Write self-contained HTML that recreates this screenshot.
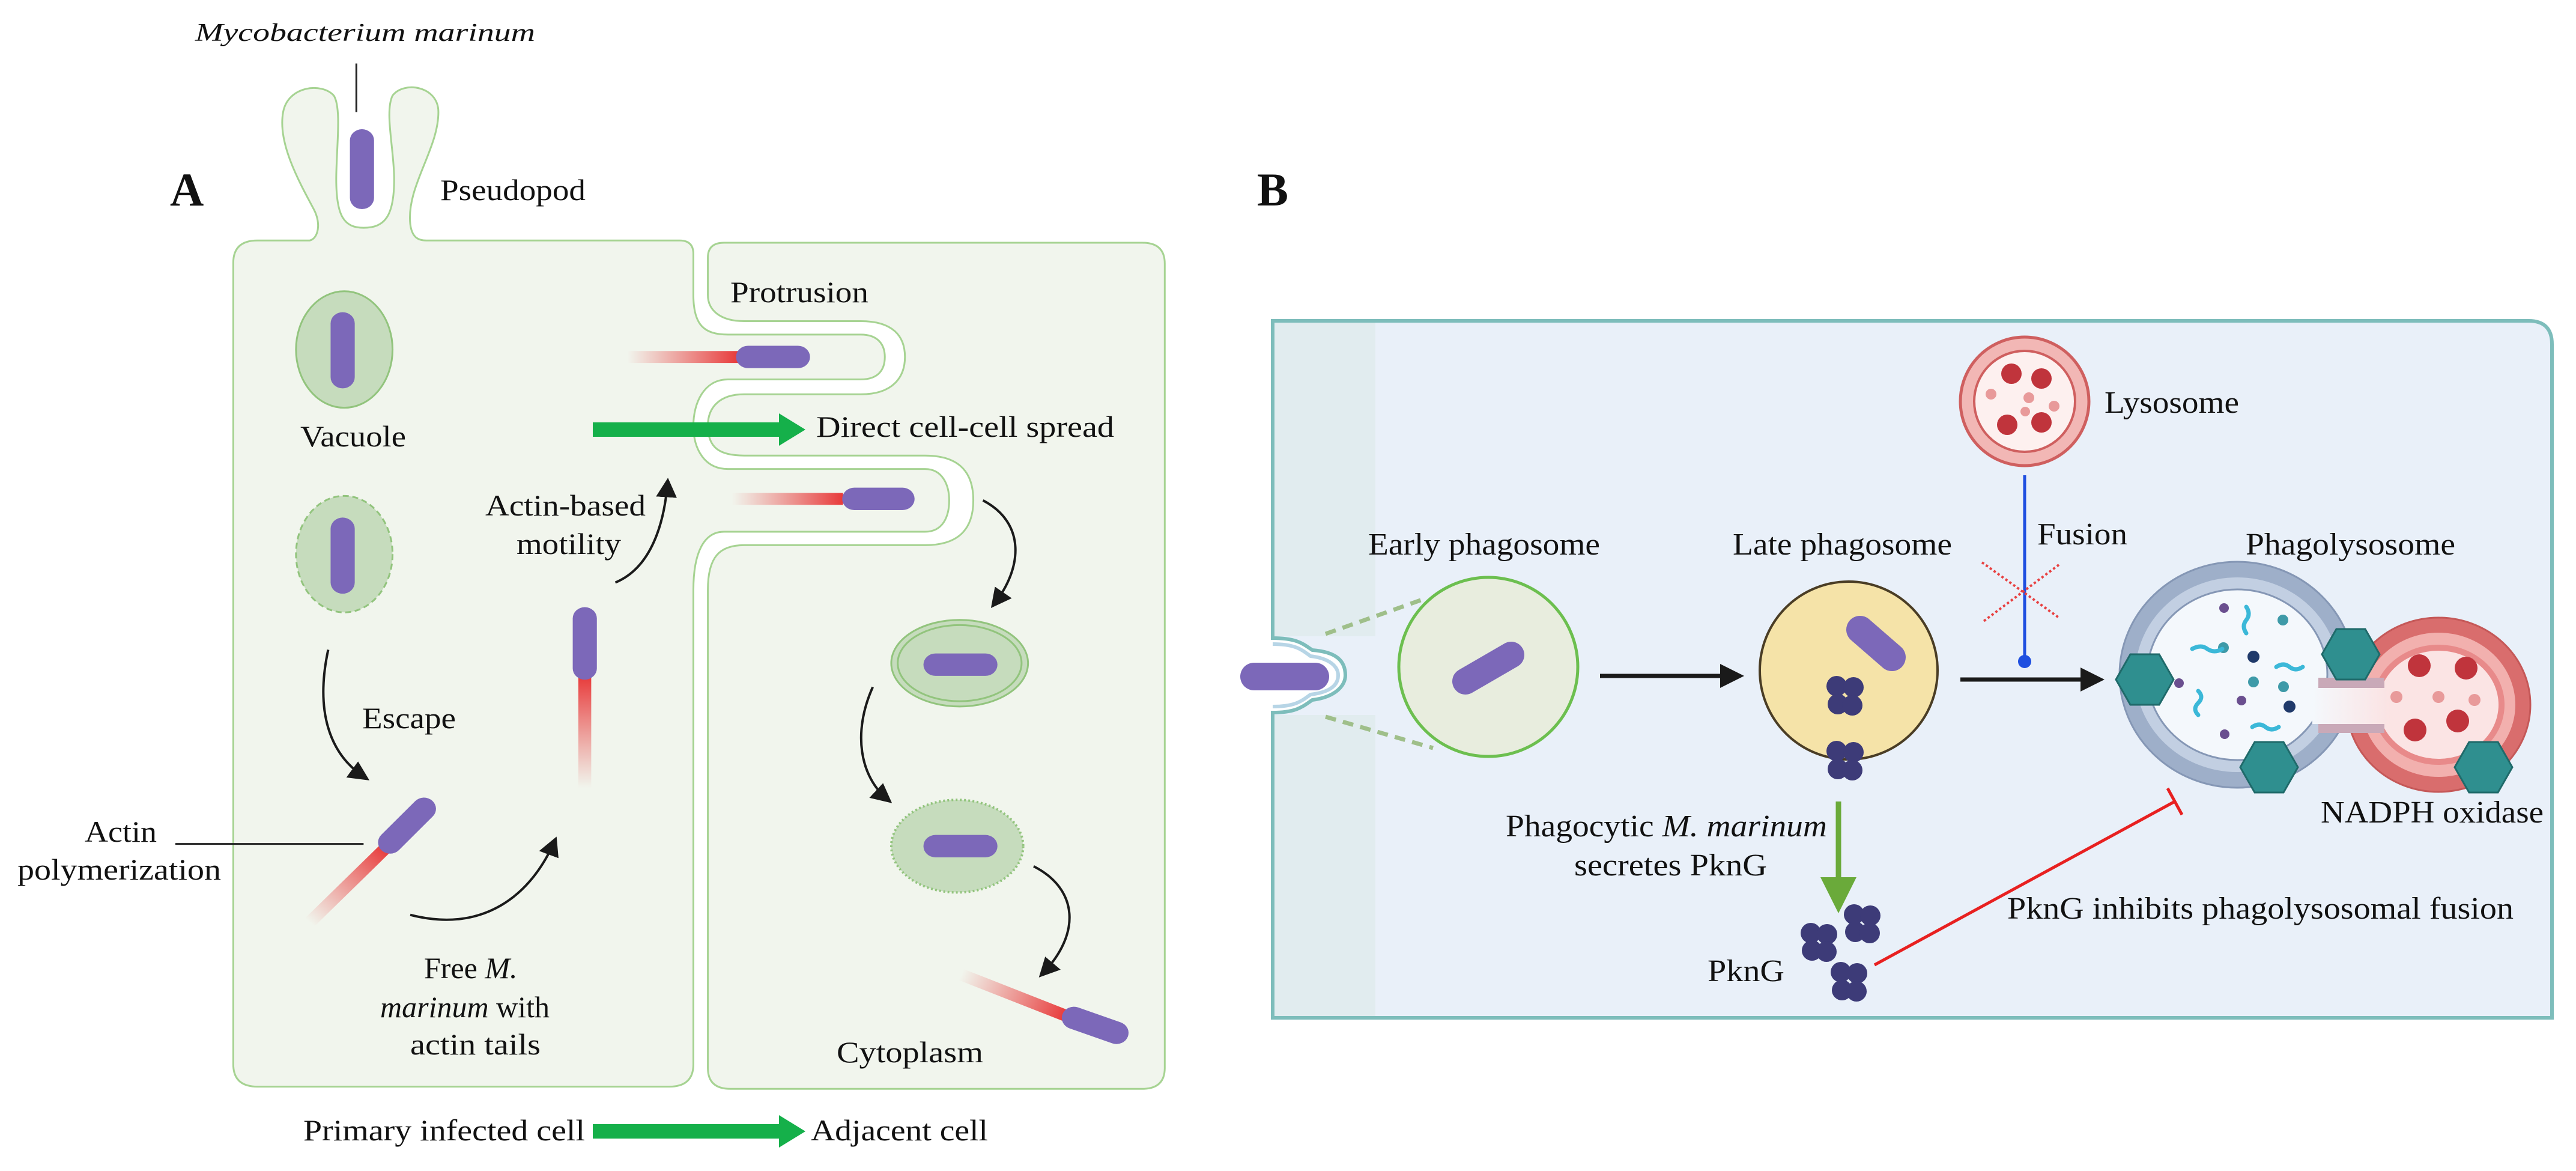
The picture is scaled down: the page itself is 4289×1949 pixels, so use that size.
<!DOCTYPE html>
<html><head><meta charset="utf-8"><style>
html,body{margin:0;padding:0;background:#fff;}
svg{display:block;}
text{font-family:"Liberation Serif",serif;fill:#111;}
</style></head><body>
<svg width="4289" height="1949" viewBox="0 0 4289 1949" xmlns="http://www.w3.org/2000/svg">
<defs>
<marker id="ah" viewBox="0 0 10 10" refX="8" refY="5" markerWidth="26" markerHeight="26" markerUnits="userSpaceOnUse" orient="auto"><path d="M0,0 L10,5 L0,10 Z" fill="#1a1a1a"/></marker>
<marker id="ahB" viewBox="0 0 10 10" refX="8" refY="5" markerWidth="40" markerHeight="40" markerUnits="userSpaceOnUse" orient="auto"><path d="M0,0 L10,5 L0,10 Z" fill="#1a1a1a"/></marker>
<linearGradient id="t1" gradientUnits="userSpaceOnUse" x1="385" y1="1235" x2="480" y2="1135"><stop offset="0" stop-color="#e84a4a" stop-opacity="0"/><stop offset="1" stop-color="#e83a3a"/></linearGradient>
<linearGradient id="t2" gradientUnits="userSpaceOnUse" x1="727" y1="1055" x2="727" y2="905"><stop offset="0" stop-color="#e84a4a" stop-opacity="0"/><stop offset="1" stop-color="#e83a3a"/></linearGradient>
<linearGradient id="t3" gradientUnits="userSpaceOnUse" x1="780" y1="478" x2="918" y2="478"><stop offset="0" stop-color="#e84a4a" stop-opacity="0"/><stop offset="1" stop-color="#e83a3a"/></linearGradient>
<linearGradient id="t4" gradientUnits="userSpaceOnUse" x1="910" y1="668" x2="1048" y2="668"><stop offset="0" stop-color="#e84a4a" stop-opacity="0"/><stop offset="1" stop-color="#e83a3a"/></linearGradient>
<linearGradient id="t5" gradientUnits="userSpaceOnUse" x1="1195" y1="1305" x2="1325" y2="1360"><stop offset="0" stop-color="#e84a4a" stop-opacity="0"/><stop offset="1" stop-color="#e83a3a"/></linearGradient>
<linearGradient id="neck" x1="0" y1="0" x2="1" y2="0"><stop offset="0" stop-color="#f4f8fc"/><stop offset="1" stop-color="#fbe3e3"/></linearGradient>
</defs>

<!-- ============ PANEL A ============ -->
<g transform="scale(1.3393,1.2430)">
  <!-- right cell -->
  <path d="M900,325 H1420 Q1448,325 1448,353 V1430 Q1448,1458 1420,1458 H908 Q880,1458 880,1430 V790 C880,745 895,730 925,730 H1150 C1195,730 1210,705 1210,670 C1210,635 1195,610 1150,610 H925 C895,610 880,600 880,570 C880,545 895,528 925,528 H1070 C1110,528 1125,505 1125,478 C1125,450 1110,430 1070,430 H925 C895,430 880,415 880,395 V345 Q880,325 900,325 Z" fill="#f1f5ed" stroke="#a6d392" stroke-width="3" vector-effect="non-scaling-stroke"/>
  <!-- left cell -->
  <path d="M320,322 H385 C395,320 400,300 390,280 C370,240 345,190 352,150 C358,115 400,110 415,128 C425,145 418,200 418,240 C418,290 428,305 452,305 C478,305 490,290 490,240 C490,200 478,150 488,128 C502,108 545,115 545,150 C545,200 505,250 510,300 C512,318 520,322 530,322 H845 Q862,322 862,340 V395 C862,435 875,448 905,448 H1070 C1092,448 1100,462 1100,478 C1100,495 1092,508 1070,508 H905 C875,508 862,540 862,570 C862,600 875,628 905,628 H1150 C1172,628 1180,650 1180,670 C1180,692 1172,712 1150,712 H900 C875,712 862,740 862,790 V1425 Q862,1455 832,1455 H320 Q290,1455 290,1425 V352 Q290,322 320,322 Z" fill="#f1f5ed" stroke="#a6d392" stroke-width="3" vector-effect="non-scaling-stroke"/>
  <!-- pseudopod line -->
  <line x1="443" y1="85" x2="443" y2="150" stroke="#222" stroke-width="3" vector-effect="non-scaling-stroke"/>
  <line x1="450" y1="188" x2="450" y2="265" stroke="#7c68b9" stroke-width="30" stroke-linecap="round"/>
  <!-- vacuoles -->
  <ellipse cx="428" cy="468" rx="60" ry="78" fill="#c6dcbd" stroke="#92c47d" stroke-width="3" vector-effect="non-scaling-stroke"/>
  <line x1="426" y1="433" x2="426" y2="505" stroke="#7c68b9" stroke-width="30" stroke-linecap="round"/>
  <ellipse cx="428" cy="742" rx="60" ry="78" fill="#c6dcbd" stroke="#92c47d" stroke-width="3" stroke-dasharray="10 6" vector-effect="non-scaling-stroke"/>
  <line x1="426" y1="708" x2="426" y2="780" stroke="#7c68b9" stroke-width="30" stroke-linecap="round"/>
  <!-- escape arrow -->
  <path d="M408,870 C392,950 408,1010 455,1042" fill="none" stroke="#1a1a1a" stroke-width="4" vector-effect="non-scaling-stroke" marker-end="url(#ah)"/>
  <!-- diagonal bacterium with tail -->
  <line x1="385" y1="1235" x2="480" y2="1135" stroke="url(#t1)" stroke-width="16"/>
  <line x1="485" y1="1128" x2="527" y2="1083" stroke="#7c68b9" stroke-width="30" stroke-linecap="round"/>
  <line x1="218" y1="1130" x2="452" y2="1130" stroke="#222" stroke-width="3" vector-effect="non-scaling-stroke"/>
  <path d="M510,1225 C600,1250 660,1200 690,1125" fill="none" stroke="#1a1a1a" stroke-width="4" vector-effect="non-scaling-stroke" marker-end="url(#ah)"/>
  <!-- vertical bacterium -->
  <line x1="727" y1="1055" x2="727" y2="905" stroke="url(#t2)" stroke-width="16"/>
  <line x1="727" y1="828" x2="727" y2="895" stroke="#7c68b9" stroke-width="30" stroke-linecap="round"/>
  <path d="M765,780 C810,760 826,700 830,645" fill="none" stroke="#1a1a1a" stroke-width="4" vector-effect="non-scaling-stroke" marker-end="url(#ah)"/>
  <!-- finger bacteria -->
  <line x1="780" y1="478" x2="918" y2="478" stroke="url(#t3)" stroke-width="16"/>
  <line x1="930" y1="478" x2="992" y2="478" stroke="#7c68b9" stroke-width="30" stroke-linecap="round"/>
  <line x1="910" y1="668" x2="1048" y2="668" stroke="url(#t4)" stroke-width="16"/>
  <line x1="1062" y1="668" x2="1122" y2="668" stroke="#7c68b9" stroke-width="30" stroke-linecap="round"/>
  <!-- right cell contents -->
  <path d="M1222,670 C1275,700 1272,760 1235,810" fill="none" stroke="#1a1a1a" stroke-width="4" vector-effect="non-scaling-stroke" marker-end="url(#ah)"/>
  <ellipse cx="1193" cy="888" rx="85" ry="58" fill="#c6dcbd" stroke="#92c47d" stroke-width="3" vector-effect="non-scaling-stroke"/>
  <ellipse cx="1193" cy="888" rx="77" ry="51" fill="none" stroke="#92c47d" stroke-width="3" vector-effect="non-scaling-stroke"/>
  <line x1="1163" y1="890" x2="1225" y2="890" stroke="#7c68b9" stroke-width="30" stroke-linecap="round"/>
  <path d="M1085,920 C1060,980 1068,1040 1105,1072" fill="none" stroke="#1a1a1a" stroke-width="4" vector-effect="non-scaling-stroke" marker-end="url(#ah)"/>
  <ellipse cx="1190" cy="1133" rx="82" ry="62" fill="#c6dcbd" stroke="#92c47d" stroke-width="4" stroke-dasharray="3 4" vector-effect="non-scaling-stroke"/>
  <line x1="1163" y1="1133" x2="1225" y2="1133" stroke="#7c68b9" stroke-width="30" stroke-linecap="round"/>
  <path d="M1285,1160 C1340,1190 1345,1250 1295,1305" fill="none" stroke="#1a1a1a" stroke-width="4" vector-effect="non-scaling-stroke" marker-end="url(#ah)"/>
  <line x1="1195" y1="1305" x2="1325" y2="1360" stroke="url(#t5)" stroke-width="16"/>
  <line x1="1335" y1="1363" x2="1388" y2="1383" stroke="#7c68b9" stroke-width="30" stroke-linecap="round"/>
</g>
<!-- green arrows panel A -->
<rect x="987" y="703" width="310" height="24" fill="#15b04a"/>
<polygon points="1297,688 1341,715 1297,742" fill="#15b04a"/>
<rect x="987" y="1871" width="310" height="24" fill="#15b04a"/>
<polygon points="1297,1856 1341,1883 1297,1910" fill="#15b04a"/>
<!-- text panel A -->
<text x="325" y="68" font-size="42" font-style="italic" textLength="566" lengthAdjust="spacingAndGlyphs">Mycobacterium marinum</text>
<text x="283" y="342" font-size="78" font-weight="bold">A</text>
<text x="733" y="333" font-size="50" textLength="242" lengthAdjust="spacingAndGlyphs">Pseudopod</text>
<text x="500" y="743" font-size="50" textLength="176" lengthAdjust="spacingAndGlyphs">Vacuole</text>
<text x="1216" y="503" font-size="50" textLength="230" lengthAdjust="spacingAndGlyphs">Protrusion</text>
<text x="1359" y="727" font-size="50" textLength="496" lengthAdjust="spacingAndGlyphs">Direct cell-cell spread</text>
<text x="808" y="858" font-size="50" textLength="267" lengthAdjust="spacingAndGlyphs">Actin-based</text>
<text x="860" y="922" font-size="50" textLength="174" lengthAdjust="spacingAndGlyphs">motility</text>
<text x="603" y="1212" font-size="50" textLength="156" lengthAdjust="spacingAndGlyphs">Escape</text>
<text x="141" y="1401" font-size="50" textLength="120" lengthAdjust="spacingAndGlyphs">Actin</text>
<text x="29" y="1464" font-size="50" textLength="339" lengthAdjust="spacingAndGlyphs">polymerization</text>
<text x="706" y="1628" font-size="50">Free <tspan font-style="italic">M.</tspan></text>
<text x="633" y="1693" font-size="50"><tspan font-style="italic">marinum</tspan> with</text>
<text x="683" y="1755" font-size="50" textLength="217" lengthAdjust="spacingAndGlyphs">actin tails</text>
<text x="1393" y="1768" font-size="50" textLength="244" lengthAdjust="spacingAndGlyphs">Cytoplasm</text>
<text x="505" y="1898" font-size="50" textLength="469" lengthAdjust="spacingAndGlyphs">Primary infected cell</text>
<text x="1350" y="1898" font-size="50" textLength="295" lengthAdjust="spacingAndGlyphs">Adjacent cell</text>

<!-- ============ PANEL B ============ -->
<text x="2093" y="342" font-size="78" font-weight="bold">B</text>
<path d="M2119,534 H4210 Q4249,534 4249,573 V1694 H2119 V1186 C2160,1186 2170,1175 2185,1165 C2225,1160 2240,1140 2240,1124 C2240,1100 2225,1085 2185,1082 C2170,1072 2160,1062 2119,1062 Z" fill="#e9f0f9" stroke="#7dbdbb" stroke-width="6"/>
<rect x="2122" y="537" width="168" height="522" fill="#e1ecef"/>
<rect x="2122" y="1190" width="168" height="501" fill="#e1ecef"/>
<path d="M2119,1072 C2158,1072 2168,1082 2182,1092 C2215,1096 2228,1110 2228,1124 C2228,1140 2215,1152 2182,1156 C2168,1166 2158,1176 2119,1176" fill="none" stroke="#b7d5e6" stroke-width="6"/>
<line x1="2088" y1="1126" x2="2190" y2="1126" stroke="#7c68b9" stroke-width="46" stroke-linecap="round"/>
<!-- dashed lines -->
<line x1="2207" y1="1055" x2="2371" y2="997" stroke="#9fbf8a" stroke-width="7" stroke-dasharray="18 12"/>
<line x1="2207" y1="1193" x2="2386" y2="1245" stroke="#9fbf8a" stroke-width="7" stroke-dasharray="18 12"/>
<!-- early phagosome -->
<circle cx="2478" cy="1110" r="149" fill="#e8edde" stroke="#6cbf4f" stroke-width="5"/>
<line x1="2440" y1="1134" x2="2516" y2="1090" stroke="#7c68b9" stroke-width="44" stroke-linecap="round"/>
<text x="2278" y="923" font-size="52" textLength="386" lengthAdjust="spacingAndGlyphs">Early phagosome</text>
<line x1="2664" y1="1125" x2="2896" y2="1125" stroke="#1a1a1a" stroke-width="7" marker-end="url(#ahB)"/>
<!-- late phagosome -->
<circle cx="3078" cy="1116" r="148" fill="#f5e3a8" stroke="#4a3d25" stroke-width="4"/>
<line x1="3097" y1="1048" x2="3150" y2="1094" stroke="#7c68b9" stroke-width="46" stroke-linecap="round"/>
<g fill="#3d3b78">
  <circle cx="3058" cy="1142" r="17"/><circle cx="3086" cy="1144" r="17"/><circle cx="3060" cy="1172" r="17"/><circle cx="3084" cy="1174" r="17"/>
  <circle cx="3058" cy="1250" r="17"/><circle cx="3086" cy="1252" r="17"/><circle cx="3060" cy="1280" r="17"/><circle cx="3084" cy="1282" r="17"/>
  <circle cx="3087" cy="1522" r="17"/><circle cx="3114" cy="1524" r="17"/><circle cx="3089" cy="1551" r="17"/><circle cx="3113" cy="1553" r="17"/>
  <circle cx="3015" cy="1553" r="17"/><circle cx="3042" cy="1555" r="17"/><circle cx="3017" cy="1582" r="17"/><circle cx="3041" cy="1584" r="17"/>
  <circle cx="3065" cy="1618" r="17"/><circle cx="3092" cy="1620" r="17"/><circle cx="3067" cy="1648" r="17"/><circle cx="3091" cy="1650" r="17"/>
</g>
<text x="2885" y="923" font-size="52" textLength="365" lengthAdjust="spacingAndGlyphs">Late phagosome</text>
<line x1="3264" y1="1131" x2="3496" y2="1131" stroke="#1a1a1a" stroke-width="7" marker-end="url(#ahB)"/>
<!-- lysosome -->
<circle cx="3371" cy="668" r="107" fill="#f2b7b5" stroke="#cf5f5f" stroke-width="5"/>
<circle cx="3371" cy="668" r="84" fill="#fdf0ef" stroke="#cf5f5f" stroke-width="4"/>
<g fill="#c0343c"><circle cx="3349" cy="622" r="17"/><circle cx="3399" cy="630" r="17"/><circle cx="3342" cy="707" r="17"/><circle cx="3399" cy="703" r="17"/></g>
<g fill="#e89a9a"><circle cx="3315" cy="656" r="9"/><circle cx="3378" cy="662" r="9"/><circle cx="3372" cy="685" r="8"/><circle cx="3420" cy="676" r="9"/></g>
<text x="3504" y="687" font-size="52" textLength="224" lengthAdjust="spacingAndGlyphs">Lysosome</text>
<line x1="3371" y1="791" x2="3371" y2="1099" stroke="#1f4fe0" stroke-width="5"/>
<circle cx="3371" cy="1101" r="11" fill="#1f4fe0"/>
<text x="3392" y="906" font-size="52" textLength="150" lengthAdjust="spacingAndGlyphs">Fusion</text>
<line x1="3300" y1="936" x2="3428" y2="1028" stroke="#e84040" stroke-width="4" stroke-dasharray="4 4"/>
<line x1="3428" y1="940" x2="3300" y2="1036" stroke="#e84040" stroke-width="4" stroke-dasharray="4 4"/>
<!-- phagolysosome -->
<ellipse cx="4060" cy="1173" rx="153" ry="145" fill="#d96d6d" stroke="#c55858" stroke-width="3"/>
<ellipse cx="4060" cy="1173" rx="128" ry="120" fill="#f2b0ae"/>
<ellipse cx="4060" cy="1173" rx="110" ry="100" fill="#e88a8a"/>
<ellipse cx="4060" cy="1173" rx="100" ry="90" fill="#fbe4e4"/>
<ellipse cx="3725" cy="1123" rx="196" ry="188" fill="#9eafc9" stroke="#8597b5" stroke-width="3"/>
<ellipse cx="3725" cy="1123" rx="170" ry="162" fill="#c2cfe2"/>
<ellipse cx="3725" cy="1123" rx="150" ry="142" fill="#f4f8fc" stroke="#8597b5" stroke-width="3"/>
<rect x="3860" y="1128" width="110" height="92" fill="#c9a9b8"/>
<rect x="3850" y="1145" width="130" height="60" fill="url(#neck)"/>
<g fill="#3e9aa8"><circle cx="3801" cy="1032" r="9"/><circle cx="3702" cy="1078" r="9"/><circle cx="3752" cy="1135" r="9"/><circle cx="3802" cy="1143" r="9"/></g>
<g fill="#6a4f8f"><circle cx="3703" cy="1012" r="8"/><circle cx="3628" cy="1137" r="8"/><circle cx="3732" cy="1166" r="8"/><circle cx="3704" cy="1222" r="8"/></g>
<g fill="#203a6a"><circle cx="3752" cy="1093" r="10"/><circle cx="3812" cy="1176" r="10"/></g>
<g fill="none" stroke="#3bb8d8" stroke-width="7" stroke-linecap="round">
  <path d="M3740,1010 q8,12 0,22 q-8,10 0,22"/><path d="M3650,1080 q15,-8 25,0 q12,8 25,0"/><path d="M3790,1110 q12,-8 22,0 q10,8 22,0"/><path d="M3660,1150 q10,10 0,20 q-10,10 0,20"/><path d="M3750,1210 q12,-8 22,0 q10,8 22,0"/>
</g>
<g fill="#c0343c"><circle cx="4028" cy="1108" r="19"/><circle cx="4106" cy="1112" r="19"/><circle cx="4021" cy="1215" r="19"/><circle cx="4092" cy="1200" r="19"/></g>
<g fill="#e89a9a"><circle cx="3990" cy="1160" r="10"/><circle cx="4060" cy="1160" r="10"/><circle cx="4120" cy="1165" r="10"/></g>
<g fill="#2f8f8f" stroke="#1f6a6a" stroke-width="3">
  <polygon points="3619,1131 3595,1173 3547,1173 3523,1131 3547,1089 3595,1089"/>
  <polygon points="3962,1089 3938,1131 3890,1131 3866,1089 3890,1047 3938,1047"/>
  <polygon points="3826,1277 3802,1319 3754,1319 3730,1277 3754,1235 3802,1235"/>
  <polygon points="4183,1277 4159,1319 4111,1319 4087,1277 4111,1235 4159,1235"/>
</g>
<text x="3739" y="923" font-size="52" textLength="349" lengthAdjust="spacingAndGlyphs">Phagolysosome</text>
<text x="3864" y="1369" font-size="52" textLength="371" lengthAdjust="spacingAndGlyphs">NADPH oxidase</text>
<!-- green down arrow -->
<line x1="3061" y1="1334" x2="3061" y2="1465" stroke="#6aaa3a" stroke-width="9"/>
<polygon points="3031,1460 3091,1460 3061,1520" fill="#6aaa3a"/>
<text x="2507" y="1392" font-size="52" textLength="535" lengthAdjust="spacingAndGlyphs">Phagocytic <tspan font-style="italic">M. marinum</tspan></text>
<text x="2621" y="1457" font-size="52" textLength="321" lengthAdjust="spacingAndGlyphs">secretes PknG</text>
<text x="2843" y="1633" font-size="52" textLength="128" lengthAdjust="spacingAndGlyphs">PknG</text>
<!-- inhibition -->
<line x1="3121" y1="1606" x2="3621" y2="1334" stroke="#e82020" stroke-width="5"/>
<line x1="3609" y1="1312" x2="3633" y2="1356" stroke="#e82020" stroke-width="5"/>
<text x="3342" y="1529" font-size="52" textLength="843" lengthAdjust="spacingAndGlyphs">PknG inhibits phagolysosomal fusion</text>
</svg>
</body></html>
